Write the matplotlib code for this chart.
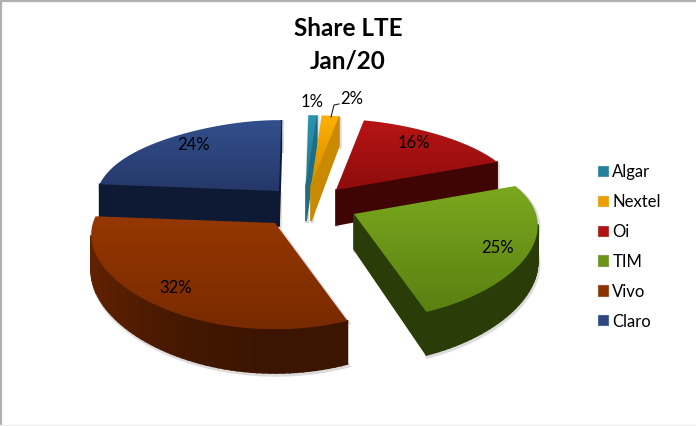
import numpy as np
import matplotlib.pyplot as plt
from matplotlib.colors import LinearSegmentedColormap, to_rgb
from matplotlib.patches import Patch, Polygon

# Share of LTE by carrier, clockwise from 12 o'clock
carriers = ['Algar', 'Nextel', 'Oi', 'TIM', 'Vivo', 'Claro']
shares = [1, 2, 16, 25, 32, 24]

# Look of each slice
top_light = ['#2a93ad', '#ffb000', '#b81414', '#7aa81e', '#953700', '#324f8c']
top_dark = ['#1f7a93', '#d28c00', '#8e0d0d', '#5a8012', '#792a00', '#26386a']
side_colors = ['#1f6d85', '#c98a00', '#3f0404', '#2a3d08', '#3c1500', '#0e1a33']
legend_colors = ['#25809b', '#eb9f00', '#b01313', '#6b9418', '#8a3300', '#2e4782']
apex_x = [306, 311, 336, 354, 275, 279]
apex_y = [186, 186, 190, 214, 223, 191]
draw_order = [0, 1, 5, 2, 3, 4]

label_x = [312, 352, 414, 498, 176, 194]
label_y = [102, 99, 143, 248, 288, 145]

# Perspective of the pie
RX, RY, KX, KY, DEPTH = 182, 85, 0.14, 0.2, 35
START = np.deg2rad(1)


def project(ax0, ay0, angle):
    u, v = np.sin(angle), np.cos(angle)
    px = 1 - KX * v - 0.12 * np.clip(v, 0, None) ** 3
    py = 1 / (1 + KY * v)
    return ax0 + RX * u * px, ay0 - RY * v * py, DEPTH * py


def slice_outline(i):
    edges = START + np.cumsum([0] + shares) / sum(shares) * 2 * np.pi
    n = max(4, int(shares[i] * 2))
    angles = np.linspace(edges[i], edges[i + 1], n)
    xs, ys, ds = project(apex_x[i], apex_y[i], angles)
    # apex comes first, its own depth has v = 0
    xs = np.r_[apex_x[i], xs]
    ys = np.r_[apex_y[i], ys]
    ds = np.r_[DEPTH, ds]
    return xs, ys, ds


def mix(c1, c2, t):
    a, b = np.array(to_rgb(c1)), np.array(to_rgb(c2))
    return tuple(a + (b - a) * t)


fig = plt.figure(figsize=(6.96, 4.26), dpi=100)
ax = fig.add_axes([0, 0, 1, 1])

plt.rcParams['font.family'] = ['Lato', 'DejaVu Sans']

# soft shadow below everything
for i in draw_order:
    xs, ys, ds = slice_outline(i)
    sx = np.r_[xs, xs[::-1]] + 1
    sy = np.r_[ys + ds, ys[::-1]] + 2
    ax.add_patch(Polygon(np.c_[sx, sy], fc='#c4c4c4', ec='#dcdcdc', lw=2.5, zorder=1))

for order, i in enumerate(draw_order):
    xs, ys, ds = slice_outline(i)
    base = 2 + order
    n = len(xs)
    # side faces, only those that look at the viewer
    for a in range(n):
        b = (a + 1) % n
        if xs[b] >= xs[a]:
            continue
        quad = [(xs[a], ys[a]), (xs[b], ys[b]),
                (xs[b], ys[b] + ds[b]), (xs[a], ys[a] + ds[a])]
        color = side_colors[i]
        is_rim = a != 0 and b != 0
        if is_rim:
            t = max(0, (apex_x[i] - xs[a]) / RX) ** 2 * 0.6
            color = mix(side_colors[i], top_dark[i], t)
        ax.add_patch(Polygon(quad, fc=color, ec=color, lw=1.2, zorder=base))

    # top face with a vertical gradient, clipped to the slice
    cmap = LinearSegmentedColormap.from_list('top', [top_light[i], top_dark[i]])
    clip = Polygon(np.c_[xs, ys], fc='none', ec='none', transform=ax.transData)
    ax.add_patch(clip)
    img = ax.imshow(np.linspace(0, 1, 64).reshape(-1, 1), cmap=cmap, aspect='auto',
                    extent=(xs.min(), xs.max(), ys.max(), ys.min()), zorder=base + 0.5)
    img.set_clip_path(clip)

ax.set_xlim(0, 696)
ax.set_ylim(426, 0)
ax.axis('off')

# percent labels
for x, y, v in zip(label_x, label_y, shares):
    ax.text(x, y, f'{v}%', fontsize=12, color='black', ha='center', va='center', zorder=20)
ax.plot([331, 334, 339], [117, 105, 104], color='#222222', lw=0.8, zorder=20)

# title
ax.text(348, 29, 'Share LTE', fontsize=17.5, fontweight='bold', ha='center', va='center', zorder=20)
ax.text(348, 61, 'Jan/20', fontsize=17.5, fontweight='bold', ha='center', va='center', zorder=20)

# legend
handles = [Patch(fc=c, ec='#dddddd', lw=0.3, label=name) for c, name in zip(legend_colors, carriers)]
leg = ax.legend(handles=handles, loc='center left', bbox_to_anchor=(598, 247),
                bbox_transform=ax.transData, frameon=False, fontsize=12,
                handlelength=0.66, handleheight=0.66, handletextpad=0.2, labelspacing=0.83,
                borderpad=0, borderaxespad=0)
leg.set_zorder(20)

# screenshot edges of the chart area
ax.plot([0, 696], [1, 1], color='#b0b0b0', lw=1.6, zorder=30, clip_on=False)
ax.plot([1, 1], [0, 426], color='#b0b0b0', lw=1.6, zorder=30, clip_on=False)
ax.plot([0, 696], [425, 425], color='#efefef', lw=1, zorder=30, clip_on=False)

fig.savefig('out.png', dpi=100)
